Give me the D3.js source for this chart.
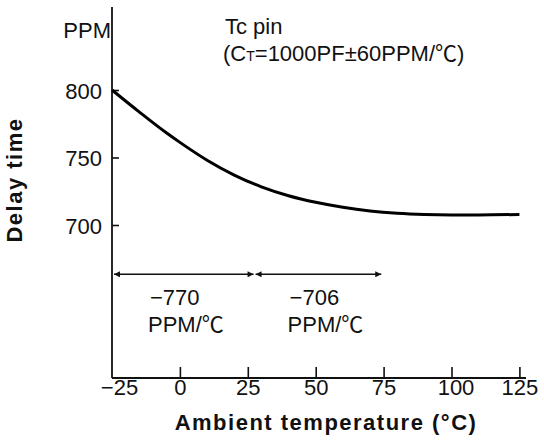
<!DOCTYPE html>
<html><head><meta charset="utf-8">
<script src="https://cdn.jsdelivr.net/npm/d3@7"></script>
<style>
html,body{margin:0;padding:0;background:#fff;}
svg text{font-family:"Liberation Sans",Arial,Helvetica,"Noto Sans CJK JP",sans-serif;fill:#111;}
</style></head>
<body><svg id="c" width="544" height="447"></svg>
<script>
// ---- data ----
const temps = [-25, -15, -5, 0, 10, 20, 30, 40, 50, 60, 70, 80, 90, 100, 110, 125];
const delayPPM = [800, 783.8, 768.3, 761.2, 748, 737, 728.3, 721.7, 716.8, 713.1, 710.4, 708.7, 707.8, 707.5, 707.5, 707.8];
const xTicks = [-25, 0, 25, 50, 75, 100, 125];
const xTickLabels = ["\u221225", "0", "25", "50", "75", "100", "125"];
const yTicks = [700, 750, 800];
const yTickLabels = ["700", "750", "800"];
const spanFrom = [-25, 27.5];
const spanTo = [27.5, 74.5];
const spanValues = ["\u2212770", "\u2212706"];
const spanUnit = "PPM/\u2103";

const svg = d3.select("#c");
const x = d3.scaleLinear().domain([-25, 125]).range([112, 519.4]);
const y = d3.scaleLinear().domain([700, 800]).range([225, 90]);
const yBottom = 378, yTop = 7, xRight = 526;

// axes
const xAxis = d3.axisBottom(x).tickValues(xTicks)
  .tickFormat((d, i) => xTickLabels[i]).tickSizeInner(-11).tickSizeOuter(0).tickPadding(1);
const gx = svg.append("g").attr("transform", `translate(0,${yBottom})`).call(xAxis);
gx.select(".domain").remove();
gx.selectAll(".tick line").attr("stroke", "#111").attr("stroke-width", 1.6);
gx.selectAll(".tick").filter(d => d === -25).select("line").remove();
gx.selectAll(".tick text").attr("font-size", 22).attr("fill", "#111")
  .attr("dx", d => d === -25 ? 7 : (d === 100 ? 4 : 0));

const yAxis = d3.axisLeft(y).tickValues(yTicks)
  .tickFormat((d, i) => yTickLabels[i]).tickSizeInner(-7).tickSizeOuter(0).tickPadding(10);
const gy = svg.append("g").attr("transform", `translate(${x(-25)},0)`).call(yAxis);
gy.select(".domain").remove();
gy.selectAll(".tick line").attr("stroke", "#111").attr("stroke-width", 1.6);
gy.selectAll(".tick text").attr("font-size", 22).attr("fill", "#111").attr("dy", "0.38em");

// axis lines
svg.append("line").attr("x1", x(-25)).attr("x2", x(-25)).attr("y1", yTop).attr("y2", yBottom)
  .attr("stroke", "#111").attr("stroke-width", 1.8);
svg.append("line").attr("x1", x(-25)).attr("x2", xRight).attr("y1", yBottom).attr("y2", yBottom)
  .attr("stroke", "#111").attr("stroke-width", 1.8);

// curve
const line = d3.line().x((d, i) => x(temps[i])).y(d => y(d)).curve(d3.curveMonotoneX);
svg.append("path").datum(delayPPM).attr("d", line)
  .attr("fill", "none").attr("stroke", "#000").attr("stroke-width", 3);

// arrows
const defs = svg.append("defs");
defs.append("marker").attr("id", "ah").attr("viewBox", "0 0 10 10").attr("refX", 10).attr("refY", 5)
  .attr("markerWidth", 10).attr("markerHeight", 6).attr("markerUnits", "userSpaceOnUse")
  .attr("orient", "auto-start-reverse")
  .append("path").attr("d", "M0,0 L10,5 L0,10 Z").attr("fill", "#111");
const arrowY = 274.3;
spanFrom.forEach((f, i) => {
  svg.append("line").attr("x1", x(f) + (i === 0 ? 2 : 1)).attr("x2", x(spanTo[i]) - 1)
    .attr("y1", arrowY).attr("y2", arrowY).attr("stroke", "#111").attr("stroke-width", 1.6)
    .attr("marker-start", "url(#ah)").attr("marker-end", "url(#ah)");
  const lx = x(f) + (i === 0 ? 36 : 33);
  svg.append("text").attr("x", lx + 2).attr("y", 305).attr("font-size", 22).text(spanValues[i]);
  svg.append("text").attr("x", lx).attr("y", 331.5).attr("font-size", 22).text(spanUnit);
});

// labels
svg.append("text").attr("x", 111).attr("y", 38.3).attr("text-anchor", "end").attr("font-size", 22).text("PPM");
svg.append("text").attr("x", 225).attr("y", 34.3).attr("font-size", 22).text("Tc pin");
const t2 = svg.append("text").attr("x", 223).attr("y", 61).attr("font-size", 22);
t2.append("tspan").text("(C");
t2.append("tspan").attr("font-size", 14).text("T");
t2.append("tspan").text("=1000PF\u00b160PPM/\u2103)");

svg.append("text").attr("x", 326).attr("y", 430).attr("text-anchor", "middle")
  .attr("font-size", 22).attr("font-weight", "bold").attr("letter-spacing", 1.5)
  .text("Ambient temperature (\u00b0C)");
svg.append("text").attr("transform", "translate(22,180) rotate(-90)").attr("text-anchor", "middle")
  .attr("font-size", 22).attr("font-weight", "bold").attr("letter-spacing", 1.5)
  .text("Delay time");
</script></body></html>
